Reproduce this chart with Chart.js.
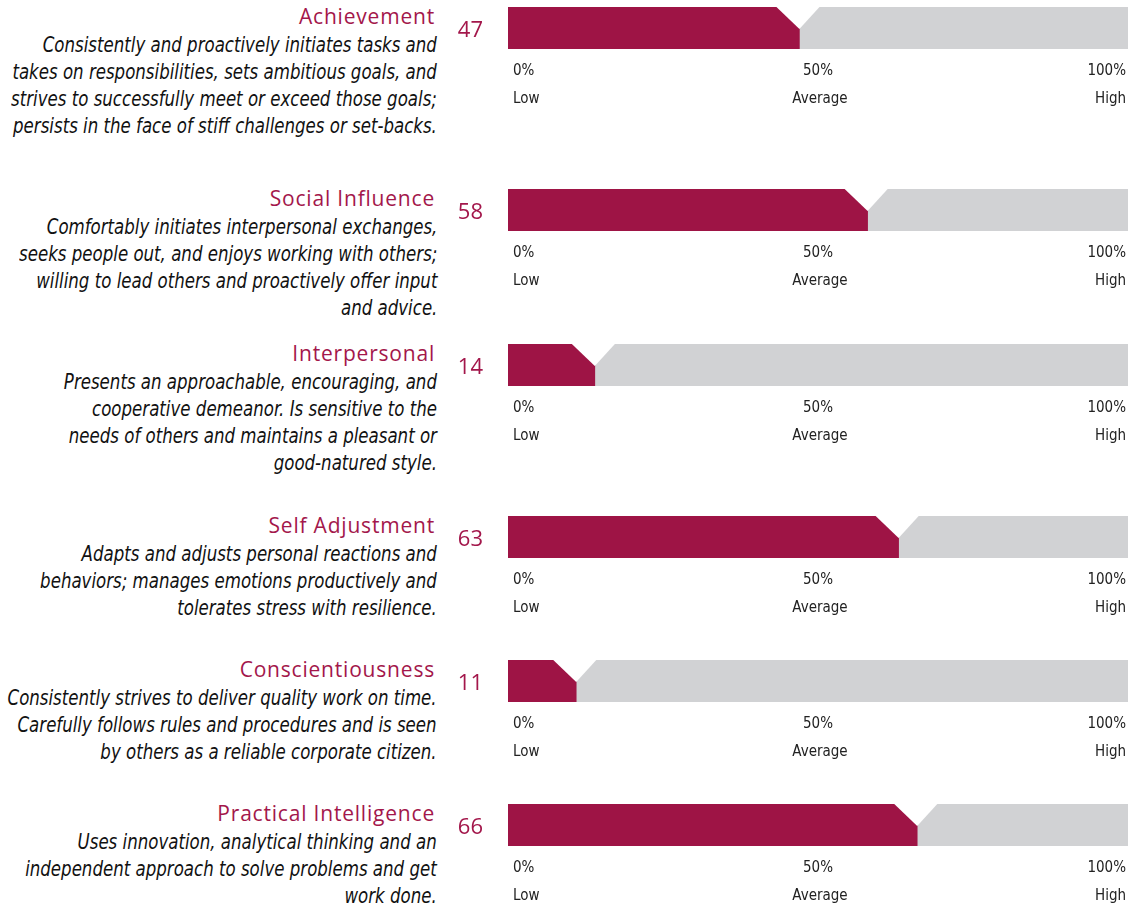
<!DOCTYPE html>
<html>
<head>
<meta charset="utf-8">
<script src="https://cdn.jsdelivr.net/npm/chart.js@4"></script>
<style>
  html, body { margin: 0; padding: 0; background: #fff; }
  body { width: 1130px; height: 907px; position: relative; overflow: hidden; }
  .row { position: absolute; left: 0; width: 1130px; height: 120px; }
  .title {
    position: absolute; right: 695px; top: -4px; line-height: 26px;
    font-family: "Open Sans", sans-serif; font-size: 21px; letter-spacing: 0.8px;
    color: #a3174b; white-space: nowrap;
  }
  .desc {
    position: absolute; right: 693px; top: 25px; line-height: 27px; text-align: right;
    font-family: "DejaVu Sans Condensed", sans-serif;
    font-style: italic; font-size: 21px; color: #111; white-space: nowrap;
    transform: scaleX(0.88); transform-origin: right top;
  }
  .row canvas { position: absolute; left: 440px; top: -40px; }
</style>
</head>
<body>
<script>
// 項目名
var categories = ["Achievement", "Social Influence", "Interpersonal", "Self Adjustment", "Conscientiousness", "Practical Intelligence"];
// スコア(%)
var scores = [47, 58, 14, 63, 11, 66];
// 説明文(行ごと)
var descriptions = [
  ["Consistently and proactively initiates tasks and", "takes on responsibilities, sets ambitious goals, and", "strives to successfully meet or exceed those goals;", "persists in the face of stiff challenges or set-backs."],
  ["Comfortably initiates interpersonal exchanges,", "seeks people out, and enjoys working with others;", "willing to lead others and proactively offer input", "and advice."],
  ["Presents an approachable, encouraging, and", "cooperative demeanor. Is sensitive to the", "needs of others and maintains a pleasant or", "good-natured style."],
  ["Adapts and adjusts personal reactions and", "behaviors; manages emotions productively and", "tolerates stress with resilience."],
  ["Consistently strives to deliver quality work on time.", "Carefully follows rules and procedures and is seen", "by others as a reliable corporate citizen."],
  ["Uses innovation, analytical thinking and an", "independent approach to solve problems and get", "work done."]
];
// 目盛り
var tickValues = [0, 50, 100];
var tickPercents = ["0%", "50%", "100%"];
var tickWords = ["Low", "Average", "High"];

// レイアウト(各行の棒の上端)
var rowTops = [7, 189, 344, 516, 660, 804];

var RED = "#9e1445";
var GREY = "#d1d2d4";

// 棒の右端に切り欠きを描き、下に目盛りラベルを描くプラグイン
var notchPlugin = {
  id: "notch",
  afterDatasetsDraw: function (chart) {
    var el = chart.getDatasetMeta(0).data[0];
    var top = chart.chartArea.top;
    var ctx = chart.ctx;
    ctx.save();
    ctx.fillStyle = "#fff";
    ctx.beginPath();
    ctx.moveTo(el.x - 24, top - 1);
    ctx.lineTo(el.x, top + 22);
    ctx.lineTo(el.x + 21, top - 1);
    ctx.closePath();
    ctx.fill();
    ctx.restore();
  },
  afterDraw: function (chart) {
    var ctx = chart.ctx;
    var xs = chart.scales.x;
    var bottom = chart.chartArea.bottom;
    ctx.save();
    ctx.font = '15px "DejaVu Sans Condensed", sans-serif';
    ctx.fillStyle = "#222";
    ctx.textBaseline = "middle";
    tickValues.forEach(function (v, i) {
      var x = xs.getPixelForValue(v);
      if (i === 0) { ctx.textAlign = "left"; x += 5; }
      else if (i === tickValues.length - 1) { ctx.textAlign = "right"; x -= 2; }
      else { ctx.textAlign = "center"; }
      ctx.fillText(tickPercents[i], x, bottom + 22);
      ctx.fillText(tickWords[i], x + (i === 1 ? 2 : 0), bottom + 50);
    });
    ctx.restore();
  }
};

categories.forEach(function (name, i) {
  var row = document.createElement("div");
  row.className = "row";
  row.style.top = rowTops[i] + "px";

  var t = document.createElement("div");
  t.className = "title";
  t.textContent = name;
  row.appendChild(t);

  var d = document.createElement("div");
  d.className = "desc";
  d.innerHTML = descriptions[i].join("<br>");
  row.appendChild(d);

  var c = document.createElement("canvas");
  c.width = 690; c.height = 150;
  c.style.width = "690px"; c.style.height = "150px";
  row.appendChild(c);
  document.body.appendChild(row);

  new Chart(c, {
    type: "bar",
    data: {
      labels: [String(scores[i])],
      datasets: [
        { data: [scores[i]], backgroundColor: RED, borderWidth: 0 },
        { data: [100 - scores[i]], backgroundColor: GREY, borderWidth: 0 }
      ]
    },
    options: {
      indexAxis: "y",
      responsive: false,
      animation: false,
      events: [],
      barPercentage: 1,
      categoryPercentage: 1,
      layout: { padding: { left: 0, right: 2, top: 40, bottom: 68 } },
      plugins: { legend: { display: false }, tooltip: { enabled: false } },
      scales: {
        x: { display: false, stacked: true, min: 0, max: 100 },
        y: {
          stacked: true,
          grid: { display: false, drawTicks: false },
          border: { display: false },
          ticks: {
            padding: 25,
            labelOffset: 3,
            color: "#a3174b",
            font: { family: "Open Sans", size: 22 }
          },
          afterFit: function (axis) { axis.width = 68; }
        }
      }
    },
    plugins: [notchPlugin]
  });
});
</script>
</body>
</html>
